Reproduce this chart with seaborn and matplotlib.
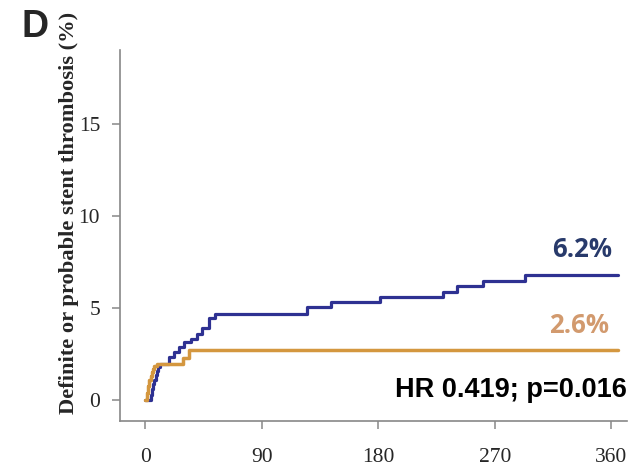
import matplotlib
matplotlib.use("Agg")
import matplotlib.pyplot as plt
import seaborn as sns
import pandas as pd

# --- data (days, cumulative %) ---
blue_days = [0, 3, 4, 5, 6, 7, 8, 9, 10, 11, 18, 22, 26, 30, 35, 40, 44, 49, 54,
             125, 143, 181, 230, 241, 261, 293, 365]
blue_pct = [0, 0, 0.3, 0.6, 0.9, 1.1, 1.4, 1.6, 1.8, 2.0, 2.35, 2.6, 2.9, 3.15, 3.35,
            3.6, 3.9, 4.45, 4.68, 5.04, 5.33, 5.6, 5.9, 6.22, 6.5, 6.82, 6.82]

orange_days = [0, 1, 2, 3, 4, 5, 6, 7, 9, 29, 34, 365]
orange_pct = [0, 0.4, 0.8, 1.1, 1.35, 1.55, 1.7, 1.85, 1.95, 2.3, 2.75, 2.75]

x_ticks = [0, 90, 180, 270, 360]
y_ticks = [0, 5, 10, 15]

blue_label = "6.2%"
orange_label = "2.6%"
hr_text = "HR 0.419; p=0.016"
panel = "D"
y_title = "Definite or probable stent thrombosis (%)"

blue_col = "#2e3192"
orange_col = "#d4973f"

sns.set_style("white")

fig = plt.figure(figsize=(6.44, 4.70), dpi=100)
ax = fig.add_axes([0.1856, 0.1049, 0.7880, 0.7887])

df_b = pd.DataFrame({"day": blue_days, "pct": blue_pct})
df_o = pd.DataFrame({"day": orange_days, "pct": orange_pct})

sns.lineplot(data=df_b, x="day", y="pct", ax=ax, color=blue_col, lw=2.3,
             drawstyle="steps-post", estimator=None, sort=False)
sns.lineplot(data=df_o, x="day", y="pct", ax=ax, color=orange_col, lw=2.5,
             drawstyle="steps-post", estimator=None, sort=False)

ax.set_xlim(-20, 372)
ax.set_ylim(-1.1, 19)
ax.set_xticks(x_ticks)
ax.set_yticks(y_ticks)

serif = ["Liberation Serif", "DejaVu Serif"]
for lab in ax.get_xticklabels() + ax.get_yticklabels():
    lab.set_family(serif)
    lab.set_fontsize(15.5)

ax.tick_params(axis="x", length=6, width=1.1, color="#888888", pad=14, direction="out")
ax.tick_params(axis="y", length=6, width=1.1, color="#888888", pad=8, direction="out")
ax.xaxis.set_ticks_position("bottom")
ax.yaxis.set_ticks_position("left")

for side in ["top", "right"]:
    ax.spines[side].set_visible(False)
for side in ["left", "bottom"]:
    ax.spines[side].set_color("#888888")
    ax.spines[side].set_linewidth(1.2)

ax.set_xlabel("")
ax.set_ylabel(y_title, family=serif, fontweight="bold", fontsize=16.2)
ax.yaxis.set_label_coords(-0.080, 0.56)

# curve end labels
ax.text(360.3, 7.79, blue_label, ha="right", va="baseline", fontsize=18.5,
        fontweight="bold", color="#283a6b", family=["Open Sans", "DejaVu Sans"])
ax.text(358, 3.67, orange_label, ha="right", va="baseline", fontsize=18.5,
        fontweight="bold", color="#d29a6e", family=["Open Sans", "DejaVu Sans"])
ax.text(1.0, 0.2, hr_text, transform=ax.get_yaxis_transform(), ha="right",
        va="baseline", fontsize=19.5, fontweight="bold", color="black",
        family=["Liberation Sans", "DejaVu Sans"])

fig.text(21 / 644, 1 - 37 / 470, panel, ha="left", va="baseline", fontsize=27,
         fontweight="bold", family=["Liberation Sans", "DejaVu Sans"])

fig.savefig("out.png", dpi=100)
